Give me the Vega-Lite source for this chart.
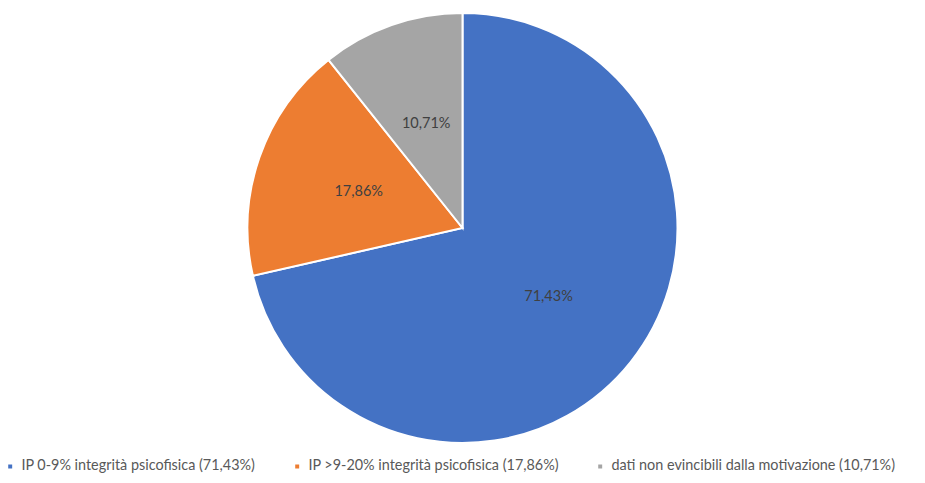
{
  "$schema": "https://vega.github.io/schema/vega-lite/v6.json",
  "width": 925,
  "height": 456,
  "autosize": {"type": "none"},
  "padding": {"left": 0, "top": 0, "right": 0, "bottom": 27},
  "background": "white",
  "data": {
    "values": [
      {"categoria": "IP 0-9% integrità psicofisica (71,43%)", "valore": 71.43, "etichetta": "71,43%", "ordine": 1},
      {"categoria": "IP >9-20% integrità psicofisica (17,86%)", "valore": 17.86, "etichetta": "17,86%", "ordine": 2},
      {"categoria": "dati non evincibili dalla motivazione (10,71%)", "valore": 10.71, "etichetta": "10,71%", "ordine": 3}
    ]
  },
  "encoding": {
    "theta": {"field": "valore", "type": "quantitative", "stack": true},
    "order": {"field": "ordine", "type": "quantitative"},
    "color": {
      "field": "categoria",
      "type": "nominal",
      "sort": null,
      "scale": {
        "domain": [
          "IP 0-9% integrità psicofisica (71,43%)",
          "IP >9-20% integrità psicofisica (17,86%)",
          "dati non evincibili dalla motivazione (10,71%)"
        ],
        "range": ["#4472C4", "#ED7D31", "#A5A5A5"]
      },
      "legend": {
        "title": null,
        "orient": "none",
        "direction": "horizontal",
        "legendX": 3,
        "legendY": 459,
        "columns": 3,
        "columnPadding": 34,
        "symbolType": "square",
        "symbolSize": 30,
        "labelFont": "Lato",
        "labelFontSize": 14.4,
        "labelColor": "#595959",
        "labelLimit": 400,
        "labelOffset": 4
      }
    }
  },
  "layer": [
    {
      "mark": {"type": "arc", "outerRadius": 215, "stroke": "white", "strokeWidth": 2}
    },
    {
      "mark": {"type": "text", "radius": 110, "font": "Lato", "fontSize": 14.5, "color": "#404040"},
      "encoding": {
        "text": {"field": "etichetta", "type": "nominal"},
        "color": {"value": "#404040"}
      }
    }
  ]
}
